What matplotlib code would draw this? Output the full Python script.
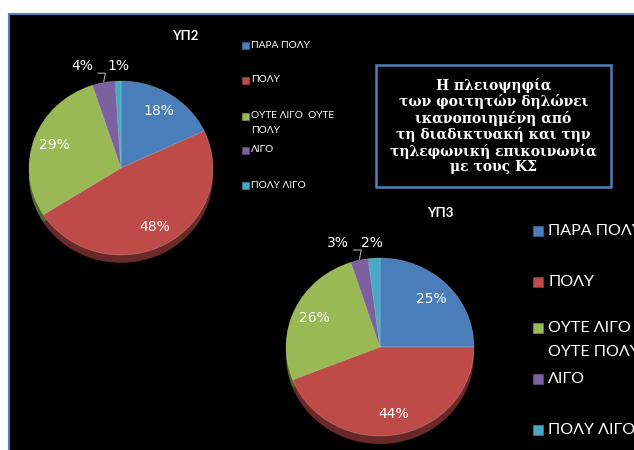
import matplotlib.pyplot as plt
from matplotlib.patches import Rectangle
from matplotlib.colors import to_rgb
import numpy as np

# δεδομένα
legend1_labels = ['ΠΑΡΑ ΠΟΛΥ', 'ΠΟΛΥ', 'ΟΥΤΕ ΛΙΓΟ  ΟΥΤΕ\nΠΟΛΥ', 'ΛΙΓΟ', 'ΠΟΛΥ ΛΙΓΟ']
legend2_labels = ['ΠΑΡΑ ΠΟΛΥ', 'ΠΟΛΥ', 'ΟΥΤΕ ΛΙΓΟ\nΟΥΤΕ ΠΟΛΥ', 'ΛΙΓΟ', 'ΠΟΛΥ ΛΙΓΟ']
yp2_values = [18, 48, 29, 4, 1]
yp3_values = [25, 44, 26, 3, 2]
colors = ['#4A7EBB', '#BE4B48', '#98B954', '#7D60A0', '#46AAC5']
note = ('Η πλειοψηφία\nτων φοιτητών δηλώνει\nικανοποιημένη από\n'
        'τη διαδικτυακή και την\nτηλεφωνική επικοινωνία\nμε τους ΚΣ')

W, H = 634, 450
fig = plt.figure(figsize=(W / 100, H / 100), dpi=100)
fig.patch.set_facecolor('white')

# υπόβαθρο σε pixel
bg = fig.add_axes([0, 0, 1, 1])
bg.set_xlim(0, W)
bg.set_ylim(H, 0)
bg.axis('off')
bg.add_patch(Rectangle((9, 14), W, H, facecolor='black', edgecolor='#4F81BD', linewidth=1.5))


def darker(c, f=0.55):
    r, g, b = to_rgb(c)
    return (r * f, g * f, b * f)


def draw_pie(cx, cy, rx, ry, values, small_pos):
    pad = 1.3
    ax = fig.add_axes([(cx - rx * pad) / W, 1 - (cy + ry * pad) / H,
                       2 * rx * pad / W, 2 * ry * pad / H])
    # 3D βάθος
    ax.pie(values, colors=[darker(c) for c in colors], startangle=90, counterclock=False,
           center=(0, -0.09), radius=1, frame=True)
    wedges, _ = ax.pie(values, colors=colors, startangle=90, counterclock=False,
                       radius=1, frame=True,
                       wedgeprops=dict(edgecolor=(1, 1, 1, 0.25), linewidth=0.5))
    ax.set_aspect('auto')
    ax.set_xlim(-pad, pad)
    ax.set_ylim(-pad, pad)
    ax.axis('off')
    k = 0
    for w, v in zip(wedges, values):
        ang = np.deg2rad((w.theta1 + w.theta2) / 2)
        x, y = np.cos(ang), np.sin(ang)
        if v >= 5:
            ax.text(0.77 * x, 0.77 * y, f'{v}%', color='white', fontsize=10,
                    ha='center', va='center', family='DejaVu Sans')
        else:
            tx = small_pos[k]
            k += 1
            ax.text(tx, 1.17, f'{v}%', color='white', fontsize=10,
                    ha='center', va='center', family='DejaVu Sans')
            if k == 1:
                ax.plot([tx + 0.17, tx + 0.25, x], [1.09, 1.09, y * 1.01],
                        color='#AAAAAA', lw=0.8)
    return ax


draw_pie(121, 168, 92, 87, yp2_values, [-0.42, -0.03])
draw_pie(380, 347, 94, 89, yp3_values, [-0.45, -0.09])

# τίτλοι
bg.text(185, 36, 'ΥΠ2', color='white', fontsize=9.5, fontweight='bold',
        ha='center', va='center', family='Lato')
bg.text(440, 213, 'ΥΠ3', color='white', fontsize=9.5, fontweight='bold',
        ha='center', va='center', family='Lato')

# υπόμνημα 1
ys1 = [45, 80, 116, 150, 185]
for lab, c, y in zip(legend1_labels, colors, ys1):
    bg.add_patch(Rectangle((242, y - 3.5), 7, 7, facecolor=c, edgecolor=darker(c, 0.8), lw=0.5))
    for j, line in enumerate(lab.split('\n')):
        bg.text(251, y + j * 14.5, line, color='white', fontsize=7.3,
                ha='left', va='center', family='Lato')

# υπόμνημα 2 (κόβεται στη δεξιά άκρη όπως στο πρωτότυπο)
ys2 = [231, 282, 328, 379, 430]
for lab, c, y in zip(legend2_labels, colors, ys2):
    bg.add_patch(Rectangle((533, y - 5), 10, 10, facecolor=c, edgecolor=darker(c, 0.8), lw=0.5))
    for j, line in enumerate(lab.split('\n')):
        bg.text(548, y + j * 24, line, color='white', fontsize=11.5,
                ha='left', va='center', family='Lato')

# πλαίσιο σχολίου
bg.add_patch(Rectangle((376, 65), 235, 122, facecolor='black', edgecolor='#4F81BD', lw=1.8))
bg.text(493.5, 126, note, color='white', fontsize=10, fontweight='bold',
        ha='center', va='center', family='DejaVu Serif', linespacing=1.12)

fig.savefig('out.png', dpi=100, facecolor='white')
